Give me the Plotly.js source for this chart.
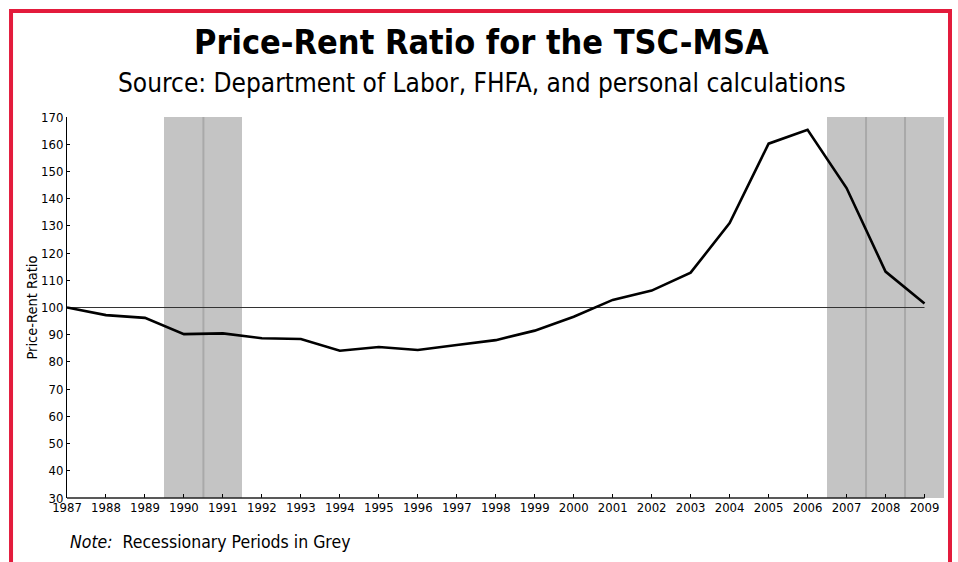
<!DOCTYPE html>
<html>
<head>
<meta charset="utf-8">
<script src="https://cdn.plot.ly/plotly-3.0.1.min.js"></script>
<style>
  html, body { margin: 0; padding: 0; background: #ffffff; }
  #chart { width: 958px; height: 562px; }
</style>
</head>
<body>
<div id="chart"></div>
<script>
// ---- data ----
const years = [1987, 1988, 1989, 1990, 1991, 1992, 1993, 1994, 1995, 1996, 1997, 1998,
               1999, 2000, 2001, 2002, 2003, 2004, 2005, 2006, 2007, 2008, 2009];
const priceRentRatio = [100.0, 97.2, 96.2, 90.2, 90.5, 88.7, 88.4, 84.1, 85.5, 84.4, 86.2, 88.0,
                        91.5, 96.6, 102.8, 106.2, 112.8, 131.0, 160.2, 165.3, 143.9, 113.2, 101.5];
const recessionYears = [1990, 1991, 2007, 2008, 2009];
const baselineValue = 100;
const yTickValues = [30, 40, 50, 60, 70, 80, 90, 100, 110, 120, 130, 140, 150, 160, 170];
const xTickLabels = years.map(String);

const titleText = 'Price-Rent Ratio for the TSC-MSA';
const subtitleText = 'Source: Department of Labor, FHFA, and personal calculations';
const yTitleText = 'Price-Rent Ratio';
const noteText = '<i>Note:</i>  Recessionary Periods in Grey';

// ---- styling ----
const FONT = '"Liberation Sans Narrow", "DejaVu Sans Condensed", "Roboto Condensed", "Arial Narrow", sans-serif';
const yMin = yTickValues[0], yMax = yTickValues[yTickValues.length - 1];
const xStart = years[0], xEnd = years[years.length - 1];
const xRange = [xStart, xEnd + 0.5];           // room for the last recession band
const xFrac = v => (v - xRange[0]) / (xRange[1] - xRange[0]);

// dividers between consecutive recession years
const divX = [], divY = [];
recessionYears.forEach(y => {
  if (recessionYears.includes(y + 1)) {
    divX.push(y + 0.5, y + 0.5, null);
    divY.push(yMin, yMax, null);
  }
});

const traces = [
  {
    type: 'bar',
    x: recessionYears,
    y: recessionYears.map(() => yMax - yMin),
    base: yMin,
    width: 1,
    marker: { color: '#c4c4c4', line: { width: 0 } },
    hoverinfo: 'skip',
    showlegend: false
  },
  {
    type: 'scatter', mode: 'lines',
    x: divX, y: divY,
    line: { color: '#a9a9a9', width: 2 },
    hoverinfo: 'skip', showlegend: false
  },
  {
    type: 'scatter', mode: 'lines',
    x: [xStart, xEnd],
    y: [baselineValue, baselineValue],
    line: { color: '#333333', width: 1 },
    hoverinfo: 'skip', showlegend: false
  },
  {
    type: 'scatter', mode: 'lines',
    x: years, y: priceRentRatio,
    line: { color: '#000000', width: 2.6 },
    showlegend: false
  }
];

const layout = {
  width: 958, height: 562,
  margin: { l: 67, r: 13.5, t: 117, b: 64, pad: 0 },
  paper_bgcolor: '#ffffff', plot_bgcolor: 'rgba(0,0,0,0)',
  font: { family: FONT, size: 13, color: '#000000' },
  bargap: 0,
  showlegend: false,
  xaxis: {
    range: xRange,
    tickmode: 'array', tickvals: years, ticktext: xTickLabels,
    ticks: 'inside', ticklen: 4, tickcolor: '#000', tickwidth: 1,
    showline: false,
    showgrid: false, zeroline: false,
    tickfont: { family: FONT, size: 13, color: '#000' },
    fixedrange: true
  },
  yaxis: {
    range: [yMin, yMax],
    tickmode: 'array', tickvals: yTickValues,
    ticks: 'inside', ticklen: 3, tickcolor: '#000', tickwidth: 1,
    showline: true, linecolor: '#000', linewidth: 1,
    showgrid: false, zeroline: false,
    tickfont: { family: FONT, size: 13, color: '#000' },
    fixedrange: true
  },
  shapes: [
    {
      // x axis line, ending at the last year
      type: 'line', xref: 'paper', yref: 'paper',
      x0: xFrac(xStart), x1: xFrac(xEnd), y0: 0, y1: 0,
      line: { color: '#222222', width: 1.5 }, layer: 'above'
    },
    {
      // red frame
      type: 'rect', xref: 'paper', yref: 'paper',
      x0: (11 - 67) / 877.5, x1: (950.5 - 67) / 877.5,
      y0: (498 - 600) / 381, y1: (498 - 11) / 381,
      line: { color: '#e31b3c', width: 4 },
      fillcolor: 'rgba(0,0,0,0)', layer: 'above'
    }
  ],
  annotations: [
    {
      text: '<b>' + titleText + '</b>', xref: 'paper', yref: 'paper',
      x: (482 - 67) / 877.5, y: (498 - 42) / 381, xanchor: 'center', yanchor: 'middle',
      showarrow: false, font: { family: FONT, size: 34, color: '#000' }
    },
    {
      text: subtitleText, xref: 'paper', yref: 'paper',
      x: (482 - 67) / 877.5, y: (498 - 83) / 381, xanchor: 'center', yanchor: 'middle',
      showarrow: false, font: { family: FONT, size: 26, color: '#000' }
    },
    {
      text: yTitleText, xref: 'paper', yref: 'paper',
      x: (31 - 67) / 877.5, y: 0.5, xanchor: 'center', yanchor: 'middle',
      textangle: -90, showarrow: false, font: { family: FONT, size: 14.5, color: '#000' }
    },
    {
      text: noteText, xref: 'paper', yref: 'paper',
      x: (68 - 67) / 877.5, y: (498 - 542) / 381, xanchor: 'left', yanchor: 'middle',
      showarrow: false, font: { family: FONT, size: 17.5, color: '#000' }
    }
  ]
};

Plotly.newPlot('chart', traces, layout, { displayModeBar: false, staticPlot: true });
</script>
</body>
</html>
